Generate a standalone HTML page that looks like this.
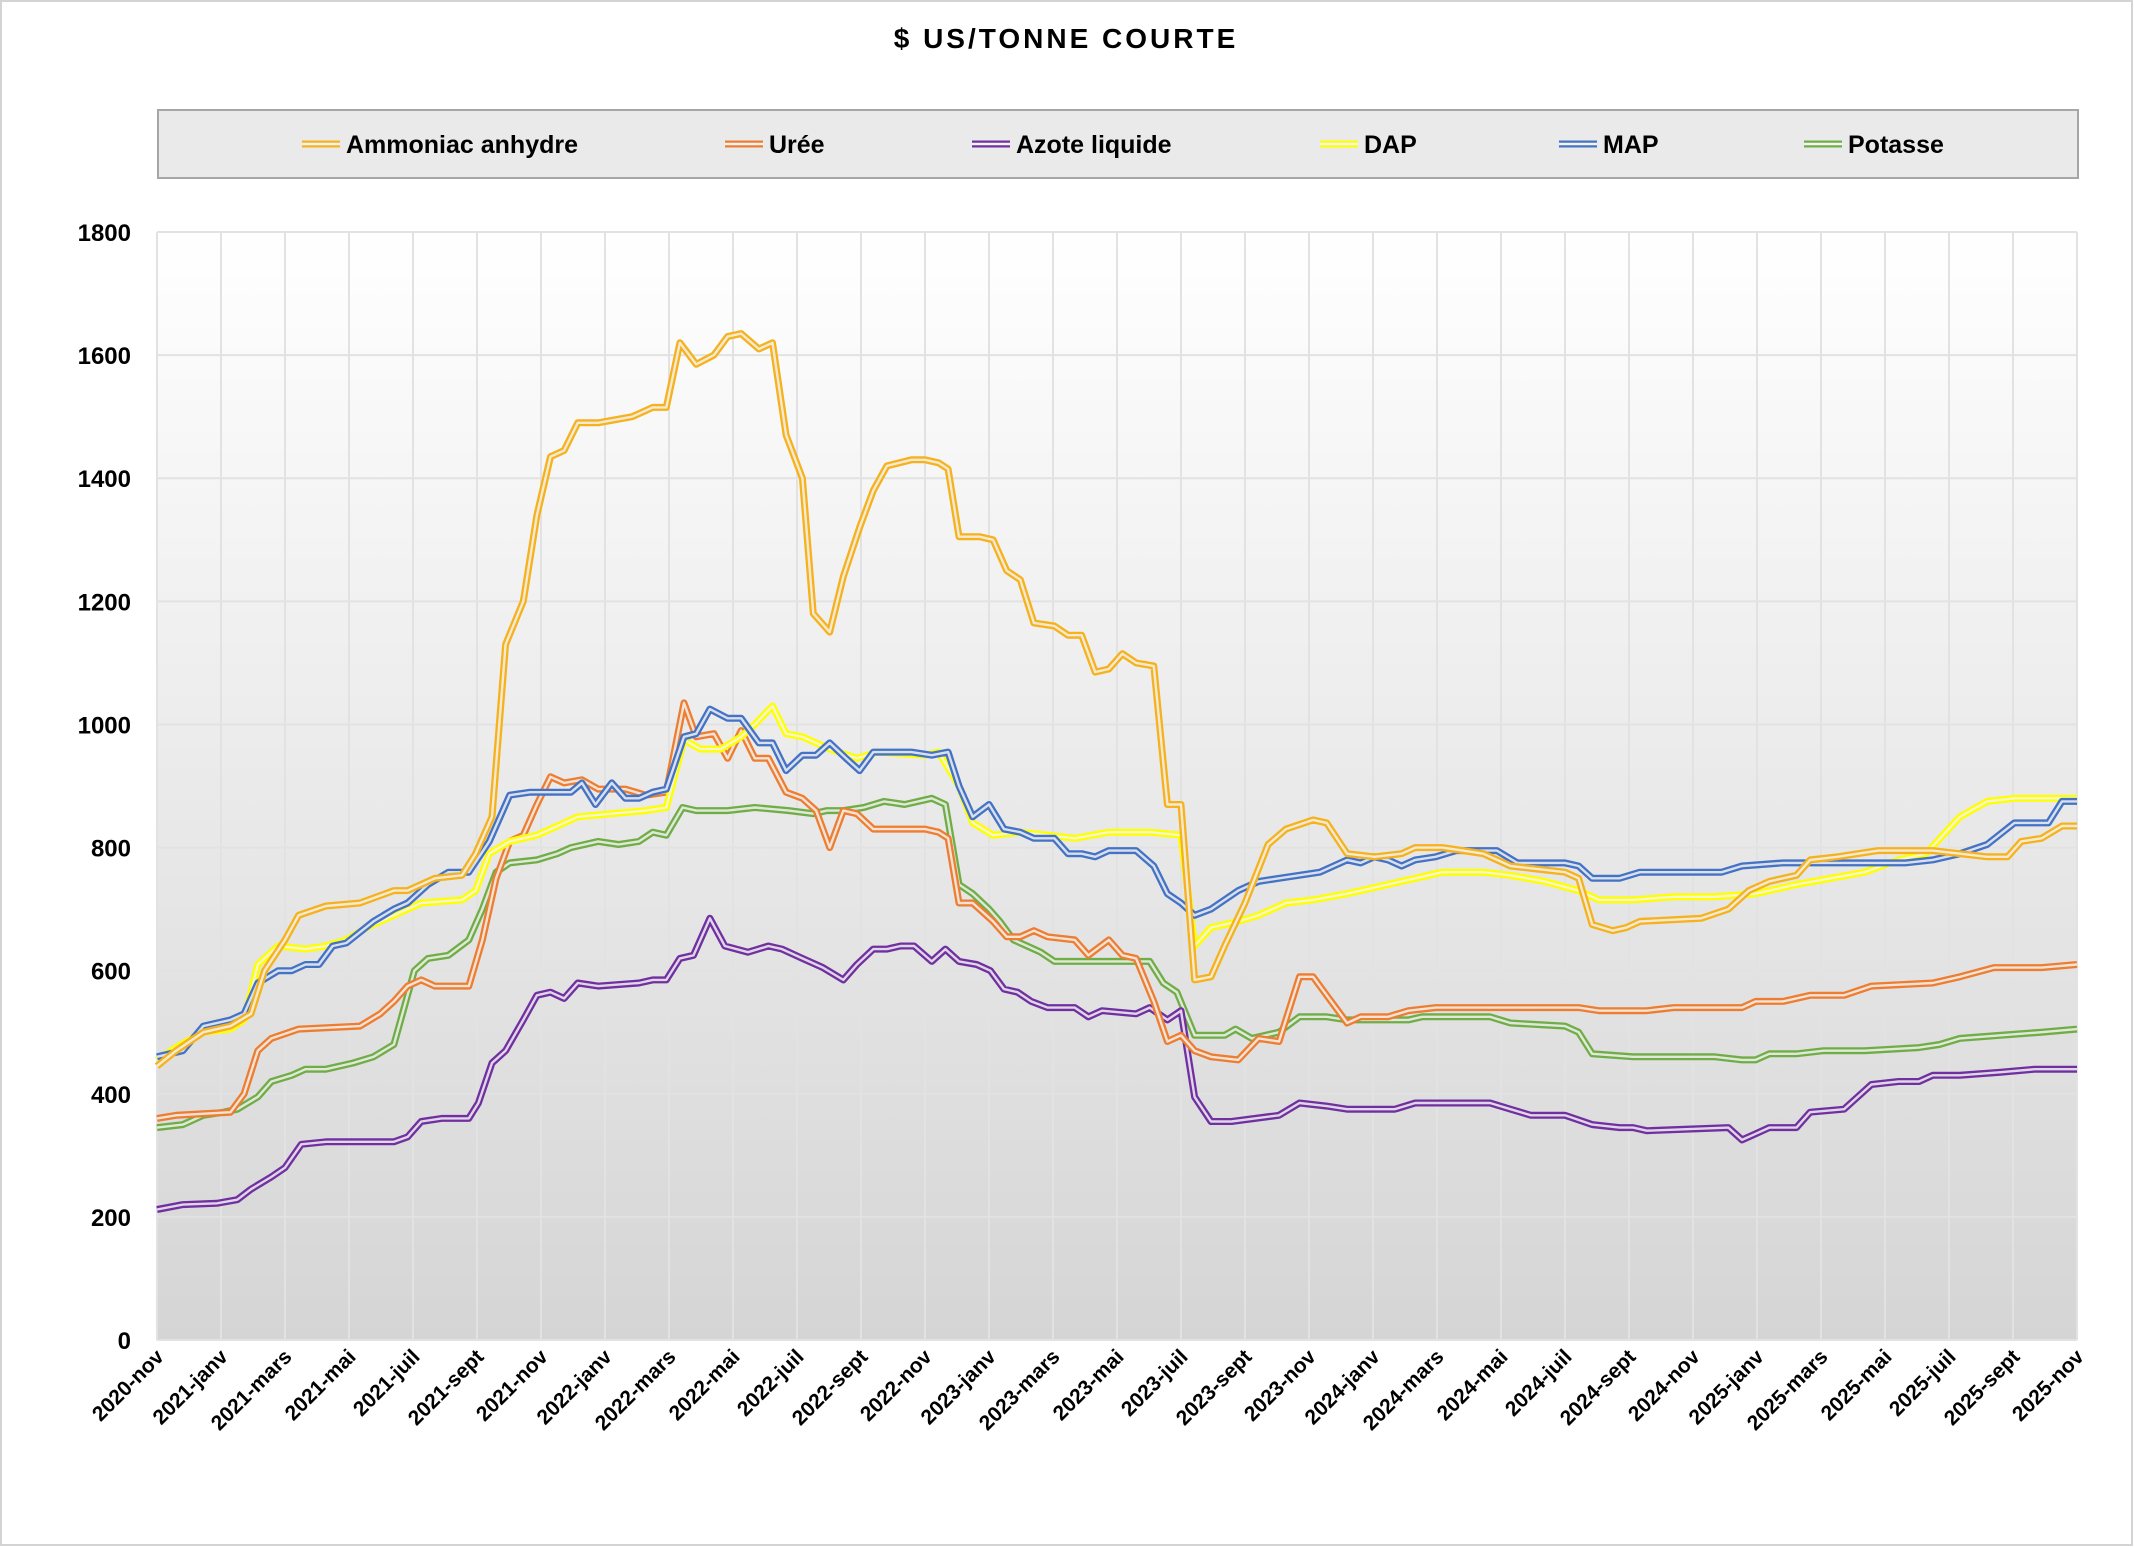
<!DOCTYPE html>
<html><head><meta charset="utf-8"><style>
body{margin:0;background:#fff}
svg{display:block;font-family:"Liberation Sans",sans-serif}
</style></head><body>
<svg id="s" width="2134" height="1547" viewBox="0 0 2134 1547" xmlns="http://www.w3.org/2000/svg">
<defs><linearGradient id="bg" x1="0" y1="0" x2="0" y2="1"><stop offset="0" stop-color="#ffffff"/><stop offset="1" stop-color="#d5d5d5"/></linearGradient></defs>
<rect x="1" y="1" width="2131" height="1544" fill="#fff" stroke="#d4d4d4" stroke-width="2"/>
<text x="1066" y="48" text-anchor="middle" font-size="28" font-weight="bold" letter-spacing="3">$ US/TONNE COURTE</text>
<rect x="158" y="110" width="1920" height="68" fill="#eaeaea" stroke="#a6a6a6" stroke-width="2"/>
<rect x="157" y="232" width="1920" height="1108" fill="url(#bg)"/>
<g id="grid"></g><g id="lines"></g><g id="lab"></g><g id="leg"></g>
</svg>
<script>
const NS="http://www.w3.org/2000/svg";
function el(t,a,p,txt){const e=document.createElementNS(NS,t);for(const k in a)e.setAttribute(k,a[k]);if(txt!==undefined)e.textContent=txt;document.getElementById(p).appendChild(e);return e;}
const X=xd=>(xd-116)/1410*1920+157, Y=v=>1340-v/1800*1108;
for(let i=0;i<=30;i++){const x=157+i*64;el('line',{x1:x,y1:232,x2:x,y2:1340,stroke:'#e2e2e2','stroke-width':2},'grid');}
for(let v=0;v<=1800;v+=200){el('line',{x1:157,y1:Y(v),x2:2077,y2:Y(v),stroke:'#e2e2e2','stroke-width':2},'grid');
el('text',{x:131,y:Y(v)+9,'text-anchor':'end','font-size':24,'font-weight':'bold'},'lab',String(v));}
const mn=['nov','janv','mars','mai','juil','sept'];
for(let i=0;i<=30;i++){const yr=2020+Math.floor((i+5)/6);const lbl=yr+'-'+mn[i%6];const x=157+i*64+8;
el('text',{x:x,y:1358,'text-anchor':'end','font-size':21,'font-weight':'bold',transform:`rotate(-45 ${x} 1358)`},'lab',lbl);}
const S={
amm:['#f5b21d',[116,445,130,470,150,500,170,510,185,530,195,600,210,650,220,690,240,705,265,710,290,730,300,730,320,750,340,755,350,790,362,850,372,1130,385,1200,395,1340,405,1435,415,1445,425,1490,440,1490,465,1500,480,1515,490,1515,500,1620,512,1585,525,1600,535,1630,545,1635,558,1610,568,1620,578,1470,590,1400,598,1180,610,1150,620,1240,632,1320,642,1380,652,1420,670,1430,680,1430,690,1425,697,1415,705,1305,720,1305,730,1300,740,1250,750,1235,760,1165,775,1160,785,1145,795,1145,805,1085,815,1090,825,1115,835,1100,848,1095,858,870,868,870,878,585,890,590,900,640,915,710,932,805,945,830,965,845,975,840,990,790,1010,785,1030,790,1040,800,1060,800,1075,795,1090,790,1110,770,1130,765,1150,760,1160,750,1170,675,1185,665,1195,670,1205,680,1250,685,1270,700,1285,730,1300,745,1320,755,1330,780,1350,785,1380,795,1420,795,1440,790,1460,785,1475,785,1485,810,1500,815,1515,835,1526,835]],
ure:['#ed7d31',[116,360,130,365,170,370,180,400,190,470,200,490,220,505,265,510,280,530,290,550,300,575,310,585,320,575,345,575,355,650,365,750,375,810,385,820,395,870,405,915,415,905,428,910,440,895,460,895,475,885,490,890,503,1035,512,980,525,985,535,945,545,990,555,945,565,945,578,890,590,880,600,860,610,800,620,860,630,855,642,830,680,830,690,825,697,815,705,710,715,710,730,680,740,655,750,655,760,665,770,655,790,650,800,625,815,650,825,625,835,620,848,550,858,485,868,495,878,470,890,460,910,455,925,490,940,485,955,590,965,590,975,560,990,515,1000,525,1020,525,1035,535,1055,540,1160,540,1175,535,1210,535,1230,540,1280,540,1290,550,1310,550,1330,560,1355,560,1375,575,1420,580,1440,590,1465,605,1500,605,1526,610]],
azo:['#7030a0',[116,212,135,220,160,222,175,228,185,245,200,265,210,280,222,318,240,322,290,322,300,330,310,355,325,360,345,360,352,385,362,450,372,470,385,520,395,560,405,565,415,555,425,580,440,575,470,580,480,585,490,585,500,620,510,625,522,685,533,640,550,630,565,640,575,635,590,620,605,605,620,585,630,610,642,635,652,635,662,640,672,640,685,615,695,635,705,615,718,610,728,600,738,570,748,565,758,550,770,540,790,540,800,525,810,535,835,530,845,540,858,520,868,535,878,395,890,355,905,355,940,365,955,385,975,380,990,375,1025,375,1040,385,1060,385,1095,385,1110,375,1125,365,1150,365,1170,350,1190,345,1200,345,1210,340,1270,345,1280,325,1290,335,1300,345,1320,345,1330,370,1355,375,1375,415,1395,420,1410,420,1420,430,1440,430,1470,435,1495,440,1526,440]],
dap:['#ffff00',[116,455,130,475,150,500,170,505,180,520,190,610,205,640,225,635,240,640,255,650,270,670,290,690,310,710,340,715,350,730,360,790,375,810,395,820,405,830,425,850,450,855,475,860,490,865,503,975,515,960,530,960,545,980,555,1000,568,1030,578,985,590,980,610,960,630,945,645,955,680,950,690,955,705,900,715,840,730,820,750,825,770,820,790,815,815,825,845,825,868,820,878,640,890,670,910,680,925,690,945,710,965,715,990,725,1020,740,1040,750,1060,760,1090,760,1110,755,1135,745,1160,730,1175,715,1200,715,1230,720,1260,720,1290,725,1320,740,1345,750,1370,760,1395,780,1415,790,1440,850,1460,875,1480,880,1526,880]],
map:['#4472c4',[116,460,135,470,150,510,170,520,180,530,190,580,205,600,215,600,225,610,235,610,245,640,255,645,275,680,290,700,300,710,315,740,330,760,345,760,360,810,375,885,390,890,420,890,428,905,438,870,450,905,460,880,470,880,480,890,490,895,503,980,512,985,522,1025,535,1010,545,1010,558,970,568,970,578,925,590,950,600,950,610,970,622,945,632,925,642,955,670,955,685,950,697,955,705,900,715,850,727,870,738,830,750,825,760,815,775,815,785,790,795,790,805,785,815,795,835,795,848,770,858,725,868,710,878,690,890,700,910,730,925,745,940,750,970,760,990,780,1000,775,1010,785,1020,780,1030,770,1040,780,1055,785,1070,795,1100,795,1115,775,1150,775,1160,770,1170,750,1190,750,1205,760,1265,760,1280,770,1310,775,1330,775,1400,775,1420,780,1440,790,1460,805,1480,840,1505,840,1515,875,1526,875]],
pot:['#70ad47',[116,345,135,350,150,365,165,370,175,375,190,395,200,420,215,430,225,440,240,440,260,450,275,460,290,480,305,600,315,620,330,625,345,650,355,700,365,760,375,775,395,780,410,790,420,800,440,810,455,805,470,810,480,825,490,820,502,865,512,860,535,860,555,865,580,860,598,855,608,860,620,860,635,865,650,875,665,870,685,880,695,870,705,740,715,725,727,700,735,680,745,650,755,640,765,630,775,615,790,615,845,615,855,580,865,565,878,495,900,495,908,505,920,490,940,500,955,525,975,525,990,520,1035,520,1045,525,1095,525,1110,515,1150,510,1160,500,1170,465,1200,460,1260,460,1280,455,1290,455,1300,465,1320,465,1340,470,1370,470,1410,475,1425,480,1440,490,1470,495,1500,500,1526,505]]};
function draw(c,d){let p='';for(let i=0;i<d.length;i+=2)p+=(i?'L':'M')+X(d[i]).toFixed(1)+' '+Y(d[i+1]).toFixed(1);
el('path',{d:p,fill:'none',stroke:c,'stroke-width':7,'stroke-linejoin':'round'},'lines');
el('path',{d:p,fill:'none',stroke:'#f3f3f3','stroke-width':2.4,'stroke-linejoin':'round','stroke-opacity':0.85},'lines');}
['pot','azo','ure','dap','map','amm'].forEach(k=>draw(S[k][0],S[k][1]));
const L=[['amm','Ammoniac anhydre',302],['ure','Urée',725],['azo','Azote liquide',972],['dap','DAP',1320],['map','MAP',1559],['pot','Potasse',1804]];
L.forEach(([k,t,x])=>{const c=S[k][0];
el('line',{x1:x,y1:144,x2:x+38,y2:144,stroke:c,'stroke-width':7},'leg');
el('line',{x1:x,y1:144,x2:x+38,y2:144,stroke:'#f3f3f3','stroke-width':2.4},'leg');
el('text',{x:x+44,y:153,'font-size':25,'font-weight':'bold'},'leg',t);});
</script>
</body></html>
